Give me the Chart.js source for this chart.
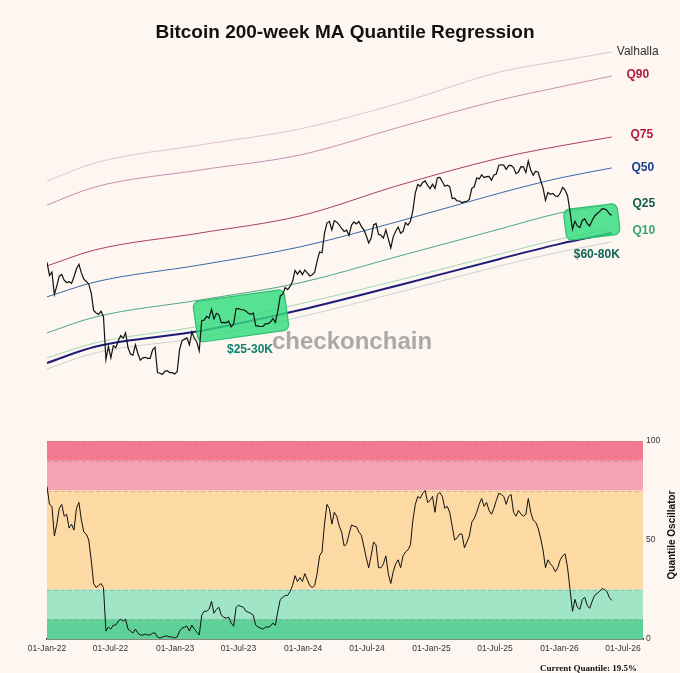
<!DOCTYPE html>
<html lang="en">
<head>
<meta charset="utf-8" />
<title>Bitcoin 200-week MA Quantile Regression</title>
<style>
    body { margin: 0; background: #fdf6f1; }
    #wrap { position: relative; width: 680px; height: 673px; }
    #priceChart { position: absolute; left: 0; top: 0; }
    #oscChart { position: absolute; left: 0; top: 420px; }
</style>
</head>
<body>
<div id="wrap">
    <canvas id="priceChart" width="680" height="420"></canvas>
    <canvas id="oscChart" width="680" height="253"></canvas>
</div>

<script src="https://cdn.jsdelivr.net/npm/chart.js@4.4.1/dist/chart.umd.min.js"></script>
<script>
    // ---- data ----
    const startDate = '2022-01-01';
    const tickDates = ['2022-01-01', '2022-07-01', '2023-01-01', '2023-07-01', '2024-01-01',
        '2024-07-01', '2025-01-01', '2025-07-01', '2026-01-01', '2026-07-01'];
    const tickLabels = ['01-Jan-22', '01-Jul-22', '01-Jan-23', '01-Jul-23', '01-Jan-24',
        '01-Jul-24', '01-Jan-25', '01-Jul-25', '01-Jan-26', '01-Jul-26'];
    const oscTicks = [0, 50, 100];
    const currentQuantile = 19.5;

    // weekly BTC price (USD), one value every 7 days from startDate
    const btcPrice = [
        47300, 41800, 43100, 35000, 37900, 41500, 42200, 40000, 39100, 39400, 38800, 41300, 44500,
        46400, 42800, 40400, 39500, 38500, 35500, 30100, 29400, 29000, 29900, 28400, 19000, 21500,
        19300, 21600, 21200, 22600, 23800, 23200, 24400, 21200, 20000, 19800, 21800, 20100, 18900,
        19300, 19400, 19200, 19200, 20800, 21300, 16800, 16700, 16500, 17000, 17100, 16800, 16800,
        // 2023
        16600, 16950, 20900, 22700, 23000, 23300, 21800, 24600, 23200, 22400, 20600, 27400, 27500,
        28500, 28000, 30400, 27800, 29300, 28900, 26800, 26900, 26800, 27200, 25800, 26500, 30600,
        30600, 30300, 30300, 29900, 29300, 29000, 29400, 26100, 26000, 25900, 25900, 26600, 26600,
        27000, 27900, 26900, 29900, 34500, 35000, 37300, 36600, 37700, 39500, 43800, 42300, 43700,
        // 2024
        42100, 44000, 42800, 41600, 42100, 43000, 47800, 52100, 51700, 62000, 68300, 69400, 64000,
        69900, 68900, 67200, 64900, 63100, 63900, 60800, 67000, 69000, 67700, 69300, 66200, 64200,
        60800, 56700, 59200, 67100, 68000, 61400, 60900, 59400, 64100, 58900, 54100, 60000, 63300,
        65800, 62100, 63200, 68400, 67000, 69500, 76700, 90600, 98000, 96400, 99900, 101400, 97200,
        94300,
        // 2025
        98300, 94600, 104500, 104700, 100600, 96500, 97500, 96100, 86000, 86200, 84000, 84000, 82600,
        83500, 83800, 85200, 94600, 96000, 104400, 103200, 107300, 104600, 105600, 105700, 102100,
        107300, 108200, 117500, 118000, 117600, 113000, 117000, 117300, 115000, 108500, 110200,
        115900, 115700, 109600, 122200, 112000, 107000, 111000, 110000, 102000, 95000, 84500, 90900,
        89500, 90200, 88000, 87500,
        // 2026
        90500, 95500, 93000, 88000, 76000, 64500, 69500, 66500, 65500, 70000, 71000, 68000, 66500,
        70000, 73000, 74500, 76000, 78000, 78000, 77000, 74500, 73500
    ];

    // weekly quantile oscillator (%), same dates as btcPrice
    const quantileOsc = [
        77, 68, 67, 52, 58, 66, 68, 62, 63, 56, 58, 55, 66, 69, 60, 54, 53, 50, 40, 28, 26, 27, 28,
        26, 4, 6, 5, 7, 7, 9, 10, 9, 10, 5, 4, 3, 5, 3, 2, 2, 2.5, 2, 2, 3, 3, 1, 0.5, 1, 1.5, 1.5,
        1, 1,
        0.5, 1, 4, 5.5, 6, 6.5, 4, 7, 5, 3.5, 2, 12, 14, 14, 15, 19, 13, 15, 16, 12, 11, 10.5, 11,
        8, 6.5, 16, 17, 16.5, 16, 14, 13.5, 13, 12, 7, 6, 5.5, 5, 6, 6, 6.5, 8, 7, 14, 20, 21, 22,
        22, 24, 27, 32, 29, 31,
        29, 33, 30, 27, 26, 27, 33, 42, 44, 58, 68, 66, 58, 64, 62, 57, 54, 47, 48, 53, 57.6, 57,
        56.7, 54, 52.5, 47, 41, 36, 42, 49, 47.5, 36, 36, 38, 42, 33, 28, 34, 38, 40, 36, 42, 44,
        45, 47.5, 60, 68, 72, 71, 73.6, 75, 69, 70,
        72, 64, 73, 74, 72, 66, 67, 64, 57, 50, 51, 53, 53, 46, 49, 52, 59, 61, 64, 68, 71, 67, 69,
        65, 63, 66, 70, 73.6, 73, 72, 68, 72, 73, 64, 62, 65, 63, 62, 63, 71, 64, 60, 59, 56, 51,
        45, 36, 40, 38, 36.5, 34, 36,
        40, 42, 43, 36, 25, 14, 20, 16, 15, 20, 21, 17, 15.5, 19, 22, 23, 24, 25.5, 25, 24, 21, 19.5
    ];

    // regression curves (USD), sampled at bandDates
    const bandDates = ['2022-01-01', '2022-05-18', '2023-03-13', '2023-12-23', '2024-10-03',
        '2025-07-15', '2026-01-02', '2026-05-30'];
    const valhalla = [101300, 120000, 142000, 165000, 210500, 281500, 312200, 339600];
    const q90 = [80900, 95800, 112300, 129300, 168100, 216500, 244600, 271200];
    const q75 = [45700, 53100, 62200, 73000, 97600, 125700, 140700, 153000];
    const q50 = [34200, 39300, 46100, 54600, 69600, 90500, 104200, 114500];
    const q25 = [24400, 28300, 33200, 39000, 50200, 64600, 75100, 81700];
    const q10 = [19300, 22200, 26000, 32000, 40100, 51100, 58800, 64600];
    const ma200w = [18400, 21400, 24800, 30200, 38200, 48800, 56200, 62200];
    const q5 = [17400, 20200, 23300, 28300, 35800, 45700, 52100, 57200];

    // ---- helpers ----
    const t0 = Date.parse(startDate);
    const toDay = d => Math.round((Date.parse(d) - t0) / 864e5);
    const weekly = arr => arr.map((v, i) => ({ x: i * 7, y: v }));
    const onBands = arr => arr.map((v, i) => ({ x: toDay(bandDates[i]), y: v }));
    const tickDays = tickDates.map(toDay);
    const X_MAX = 1699;
    const SANS = '"Liberation Sans", Arial, sans-serif';

    // ---- top panel: price vs quantile curves ----
    const curve = (data, color, width, label) => ({
        data: onBands(data), borderColor: color, borderWidth: width, pointRadius: 0,
        cubicInterpolationMode: 'monotone', endLabel: label
    });

    const ranges = [
        { day: 553, price: 28600, w: 92, h: 41, angle: -8, text: '$25-30K', dx: 9, dy: 34, color: '#128070' },
        { day: 1553, price: 69000, w: 54, h: 31, angle: -7, text: '$60-80K', dx: 5, dy: 33, color: '#0e6656' }
    ];

    const priceDecor = {
        id: 'priceDecor',
        beforeDatasetsDraw(chart) {
            const ctx = chart.ctx;
            ctx.save();
            ctx.font = 'bold 24px ' + SANS;
            ctx.fillStyle = 'rgba(150,150,150,0.8)';
            ctx.textBaseline = 'middle';
            ctx.fillText('checkonchain', 272, 342);
            ctx.restore();
        },
        beforeDatasetDraw(chart, args) {
            // green range boxes go just under the price line (dataset 0)
            if (args.index !== 0) return;
            const { ctx, scales } = chart;
            ranges.forEach(r => {
                const px = scales.x.getPixelForValue(r.day);
                const py = scales.y.getPixelForValue(r.price);
                ctx.save();
                ctx.translate(px, py);
                ctx.rotate(r.angle * Math.PI / 180);
                ctx.beginPath();
                ctx.roundRect(-r.w / 2, -r.h / 2, r.w, r.h, 6);
                ctx.fillStyle = 'rgba(50, 220, 125, 0.82)';
                ctx.fill();
                ctx.strokeStyle = '#2fbf72';
                ctx.lineWidth = 1.2;
                ctx.stroke();
                ctx.restore();
            });
        },
        afterDraw(chart) {
            const { ctx, scales } = chart;
            ctx.save();
            ctx.textBaseline = 'middle';
            ctx.textAlign = 'center';
            ctx.fillStyle = '#111';
            ctx.font = 'bold 19px ' + SANS;
            ctx.fillText('Bitcoin 200-week MA Quantile Regression', 345, 33);

            ranges.forEach(r => {
                ctx.font = 'bold 12px ' + SANS;
                ctx.fillStyle = r.color;
                ctx.fillText(r.text, scales.x.getPixelForValue(r.day) + r.dx,
                    scales.y.getPixelForValue(r.price) + r.dy);
            });

            chart.data.datasets.forEach(ds => {
                const lab = ds.endLabel;
                if (!lab) return;
                const last = ds.data[ds.data.length - 1];
                const x = scales.x.getPixelForValue(last.x);
                const y = scales.y.getPixelForValue(last.y);
                ctx.font = (lab.bold ? 'bold ' : '') + '12px ' + SANS;
                ctx.fillStyle = lab.color;
                ctx.textAlign = lab.align || 'center';
                ctx.fillText(lab.text, x + lab.dx, y + (lab.dy || 0));
            });
            ctx.restore();
        }
    };

    new Chart(document.getElementById('priceChart'), {
        type: 'line',
        data: {
            datasets: [
                { data: weekly(btcPrice), borderColor: '#111', borderWidth: 1.2, pointRadius: 0, tension: 0 },
                curve(valhalla, '#e2c3d2', 1, { text: 'Valhalla', color: '#333', dx: 5, align: 'left' }),
                curve(q90, '#c890b0', 1, { text: 'Q90', color: '#b3173f', dx: 26, bold: true, dy: -1 }),
                curve(q75, '#a8405e', 1, { text: 'Q75', color: '#b3173f', dx: 30, bold: true, dy: -2 }),
                curve(q50, '#3b68a6', 1, { text: 'Q50', color: '#1b3f8f', dx: 31, bold: true }),
                curve(q25, '#4aa884', 1, { text: 'Q25', color: '#0f5a4a', dx: 32, bold: true }),
                curve(q10, '#9fd8b5', 1, { text: 'Q10', color: '#36a46e', dx: 32, bold: true, dy: 2 }),
                curve(ma200w, '#1d1a78', 2),
                curve(q5, '#cad3cc', 1)
            ]
        },
        options: {
            responsive: false,
            animation: false,
            layout: { padding: { left: 47, right: 37, top: 40, bottom: 20 } },
            plugins: { legend: { display: false }, tooltip: { enabled: false } },
            scales: {
                x: { type: 'linear', min: 0, max: X_MAX, display: false },
                y: { type: 'logarithmic', min: 13000, max: 380000, display: false }
            }
        },
        plugins: [priceDecor]
    });

    // ---- bottom panel: quantile oscillator ----
    const zones = [
        { from: 90, to: 100, color: 'rgb(241,121,144)' },
        { from: 75, to: 90, color: 'rgb(246,164,179)' },
        { from: 25, to: 75, color: 'rgb(253,217,164)' },
        { from: 10, to: 25, color: 'rgb(160,229,197)' },
        { from: 0, to: 10, color: 'rgb(94,209,153)' }
    ];

    const oscDecor = {
        id: 'oscDecor',
        beforeDatasetsDraw(chart) {
            const { ctx, chartArea: a, scales } = chart;
            ctx.save();
            zones.forEach(z => {
                const yTop = scales.y.getPixelForValue(z.to);
                const yBot = scales.y.getPixelForValue(z.from);
                ctx.fillStyle = z.color;
                ctx.fillRect(a.left, yTop, a.right - a.left, yBot - yTop);
            });
            ctx.setLineDash([4, 3]);
            ctx.strokeStyle = 'rgba(120,120,120,0.35)';
            ctx.lineWidth = 1;
            [10, 25, 75, 90, 100].forEach(v => {
                const y = Math.round(scales.y.getPixelForValue(v)) + 0.5;
                ctx.beginPath();
                ctx.moveTo(a.left, y);
                ctx.lineTo(a.right, y);
                ctx.stroke();
            });
            ctx.restore();
        },
        afterDraw(chart) {
            const ctx = chart.ctx;
            ctx.save();
            ctx.fillStyle = '#111';
            ctx.font = 'bold 10px ' + SANS;
            ctx.textAlign = 'center';
            ctx.textBaseline = 'middle';
            ctx.translate(672, 115);
            ctx.rotate(-Math.PI / 2);
            ctx.fillText('Quantile Oscillator', 0, 0);
            ctx.restore();

            ctx.save();
            ctx.fillStyle = '#111';
            ctx.font = 'bold 9px "Liberation Serif", serif';
            ctx.textAlign = 'right';
            ctx.textBaseline = 'middle';
            ctx.fillText('Current Quantile: ' + currentQuantile + '%', 637, 249);
            ctx.restore();
        }
    };

    new Chart(document.getElementById('oscChart'), {
        type: 'line',
        data: {
            datasets: [
                { data: weekly(quantileOsc), borderColor: '#111', borderWidth: 1, pointRadius: 0, tension: 0 }
            ]
        },
        options: {
            responsive: false,
            animation: false,
            layout: { padding: { left: 47, right: 0, top: 21, bottom: 0 } },
            plugins: { legend: { display: false }, tooltip: { enabled: false } },
            scales: {
                x: {
                    type: 'linear', min: 0, max: X_MAX,
                    grid: { display: false, drawTicks: false },
                    border: { display: true, color: '#111', width: 1.5 },
                    afterBuildTicks: s => { s.ticks = tickDays.map(v => ({ value: v })); },
                    afterFit: s => { s.height = 34; },
                    ticks: {
                        autoSkip: false, maxRotation: 0, padding: 5, color: '#333',
                        font: { family: SANS, size: 8.5 },
                        callback: (v, i) => tickLabels[i]
                    }
                },
                y: {
                    position: 'right', min: 0, max: 100,
                    grid: { display: false, drawTicks: false },
                    border: { display: false },
                    afterBuildTicks: s => { s.ticks = oscTicks.map(v => ({ value: v })); },
                    afterFit: s => { s.width = 37; },
                    ticks: { padding: 3, color: '#333', font: { family: SANS, size: 8.5 } }
                }
            }
        },
        plugins: [oscDecor]
    });
</script>
</body>
</html>
